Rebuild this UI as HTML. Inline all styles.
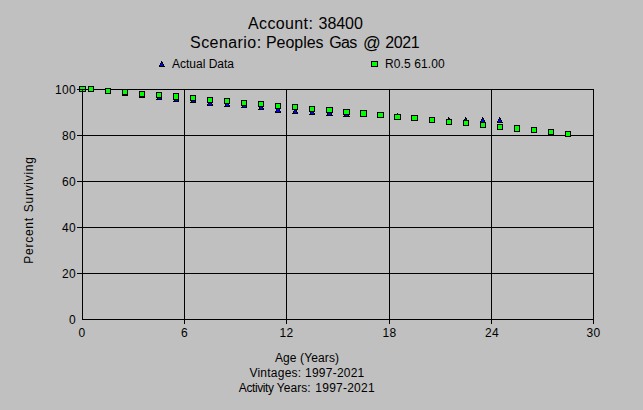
<!DOCTYPE html>
<html><head><meta charset="utf-8"><title>Survivor Curve</title>
<style>
html,body{margin:0;padding:0;background:#c0c0c0;}
body{width:643px;height:410px;position:relative;overflow:hidden;font-family:"Liberation Sans",sans-serif;color:#000;}
i{position:absolute;display:block;}
i.g{background:#0f0;border:1px solid #000;}
.t{position:absolute;white-space:nowrap;line-height:14px;}
.sm{font-size:12px;}
.num{letter-spacing:0.33px;}
.big{font-size:16px;line-height:19px;transform:scaleY(1.04);transform-origin:50% 78%;}
.at{font-size:17.5px;}
.rot{font-size:12px;line-height:14px;letter-spacing:0.72px;transform:translate(-50%,-50%) rotate(-90deg) scale(1,1.08);transform-origin:50% 50%;}
</style></head><body>
<i style="left:82px;top:89px;width:1px;height:231px;background:#000"></i>
<i style="left:184px;top:89px;width:1px;height:231px;background:#000"></i>
<i style="left:286px;top:89px;width:1px;height:231px;background:#000"></i>
<i style="left:389px;top:89px;width:1px;height:231px;background:#000"></i>
<i style="left:491px;top:89px;width:1px;height:231px;background:#000"></i>
<i style="left:593px;top:89px;width:1px;height:231px;background:#000"></i>
<i style="left:82px;top:89px;width:512px;height:1px;background:#000"></i>
<i style="left:82px;top:135px;width:512px;height:1px;background:#000"></i>
<i style="left:82px;top:181px;width:512px;height:1px;background:#000"></i>
<i style="left:82px;top:227px;width:512px;height:1px;background:#000"></i>
<i style="left:82px;top:273px;width:512px;height:1px;background:#000"></i>
<i style="left:82px;top:319px;width:512px;height:1px;background:#000"></i>
<i style="left:77px;top:89px;width:5px;height:1px;background:#000"></i>
<i style="left:77px;top:135px;width:5px;height:1px;background:#000"></i>
<i style="left:77px;top:181px;width:5px;height:1px;background:#000"></i>
<i style="left:77px;top:227px;width:5px;height:1px;background:#000"></i>
<i style="left:77px;top:273px;width:5px;height:1px;background:#000"></i>
<i style="left:184px;top:320px;width:1px;height:4px;background:#000"></i>
<i style="left:286px;top:320px;width:1px;height:4px;background:#000"></i>
<i style="left:389px;top:320px;width:1px;height:4px;background:#000"></i>
<i style="left:491px;top:320px;width:1px;height:4px;background:#000"></i>
<i style="left:593px;top:320px;width:1px;height:4px;background:#000"></i>
<i style="left:82px;top:86px;width:1px;height:1px;background:#000"></i>
<i style="left:81px;top:87px;width:1px;height:1px;background:#000"></i>
<i style="left:82px;top:87px;width:1px;height:1px;background:#00f"></i>
<i style="left:83px;top:87px;width:1px;height:1px;background:#000"></i>
<i style="left:81px;top:88px;width:1px;height:1px;background:#000"></i>
<i style="left:82px;top:88px;width:1px;height:1px;background:#00f"></i>
<i style="left:83px;top:88px;width:1px;height:1px;background:#000"></i>
<i style="left:80px;top:89px;width:1px;height:1px;background:#000"></i>
<i style="left:81px;top:89px;width:3px;height:1px;background:#00f"></i>
<i style="left:84px;top:89px;width:1px;height:1px;background:#000"></i>
<i style="left:80px;top:90px;width:1px;height:1px;background:#000"></i>
<i style="left:81px;top:90px;width:3px;height:1px;background:#00f"></i>
<i style="left:84px;top:90px;width:1px;height:1px;background:#000"></i>
<i style="left:79px;top:91px;width:7px;height:1px;background:#000"></i>
<i style="left:91px;top:86px;width:1px;height:1px;background:#000"></i>
<i style="left:90px;top:87px;width:2px;height:1px;background:#000"></i>
<i style="left:90px;top:88px;width:1px;height:1px;background:#000"></i>
<i style="left:91px;top:88px;width:1px;height:1px;background:#00f"></i>
<i style="left:92px;top:88px;width:1px;height:1px;background:#000"></i>
<i style="left:89px;top:89px;width:1px;height:1px;background:#000"></i>
<i style="left:90px;top:89px;width:2px;height:1px;background:#00f"></i>
<i style="left:92px;top:89px;width:1px;height:1px;background:#000"></i>
<i style="left:89px;top:90px;width:1px;height:1px;background:#000"></i>
<i style="left:90px;top:90px;width:3px;height:1px;background:#00f"></i>
<i style="left:93px;top:90px;width:1px;height:1px;background:#000"></i>
<i style="left:88px;top:91px;width:6px;height:1px;background:#000"></i>
<i style="left:108px;top:88px;width:1px;height:1px;background:#000"></i>
<i style="left:107px;top:89px;width:2px;height:1px;background:#000"></i>
<i style="left:107px;top:90px;width:1px;height:1px;background:#000"></i>
<i style="left:108px;top:90px;width:1px;height:1px;background:#00f"></i>
<i style="left:109px;top:90px;width:1px;height:1px;background:#000"></i>
<i style="left:106px;top:91px;width:1px;height:1px;background:#000"></i>
<i style="left:107px;top:91px;width:2px;height:1px;background:#00f"></i>
<i style="left:109px;top:91px;width:1px;height:1px;background:#000"></i>
<i style="left:106px;top:92px;width:1px;height:1px;background:#000"></i>
<i style="left:107px;top:92px;width:3px;height:1px;background:#00f"></i>
<i style="left:110px;top:92px;width:1px;height:1px;background:#000"></i>
<i style="left:105px;top:93px;width:6px;height:1px;background:#000"></i>
<i style="left:125px;top:90px;width:1px;height:1px;background:#000"></i>
<i style="left:124px;top:91px;width:2px;height:1px;background:#000"></i>
<i style="left:124px;top:92px;width:1px;height:1px;background:#000"></i>
<i style="left:125px;top:92px;width:1px;height:1px;background:#00f"></i>
<i style="left:126px;top:92px;width:1px;height:1px;background:#000"></i>
<i style="left:123px;top:93px;width:1px;height:1px;background:#000"></i>
<i style="left:124px;top:93px;width:2px;height:1px;background:#00f"></i>
<i style="left:126px;top:93px;width:1px;height:1px;background:#000"></i>
<i style="left:123px;top:94px;width:1px;height:1px;background:#000"></i>
<i style="left:124px;top:94px;width:3px;height:1px;background:#00f"></i>
<i style="left:127px;top:94px;width:1px;height:1px;background:#000"></i>
<i style="left:122px;top:95px;width:6px;height:1px;background:#000"></i>
<i style="left:142px;top:92px;width:1px;height:1px;background:#000"></i>
<i style="left:141px;top:93px;width:2px;height:1px;background:#000"></i>
<i style="left:141px;top:94px;width:1px;height:1px;background:#000"></i>
<i style="left:142px;top:94px;width:1px;height:1px;background:#00f"></i>
<i style="left:143px;top:94px;width:1px;height:1px;background:#000"></i>
<i style="left:140px;top:95px;width:1px;height:1px;background:#000"></i>
<i style="left:141px;top:95px;width:2px;height:1px;background:#00f"></i>
<i style="left:143px;top:95px;width:1px;height:1px;background:#000"></i>
<i style="left:140px;top:96px;width:1px;height:1px;background:#000"></i>
<i style="left:141px;top:96px;width:3px;height:1px;background:#00f"></i>
<i style="left:144px;top:96px;width:1px;height:1px;background:#000"></i>
<i style="left:139px;top:97px;width:6px;height:1px;background:#000"></i>
<i style="left:159px;top:94px;width:1px;height:1px;background:#000"></i>
<i style="left:158px;top:95px;width:2px;height:1px;background:#000"></i>
<i style="left:158px;top:96px;width:1px;height:1px;background:#000"></i>
<i style="left:159px;top:96px;width:1px;height:1px;background:#00f"></i>
<i style="left:160px;top:96px;width:1px;height:1px;background:#000"></i>
<i style="left:157px;top:97px;width:1px;height:1px;background:#000"></i>
<i style="left:158px;top:97px;width:2px;height:1px;background:#00f"></i>
<i style="left:160px;top:97px;width:1px;height:1px;background:#000"></i>
<i style="left:157px;top:98px;width:1px;height:1px;background:#000"></i>
<i style="left:158px;top:98px;width:3px;height:1px;background:#00f"></i>
<i style="left:161px;top:98px;width:1px;height:1px;background:#000"></i>
<i style="left:156px;top:99px;width:6px;height:1px;background:#000"></i>
<i style="left:176px;top:96px;width:1px;height:1px;background:#000"></i>
<i style="left:175px;top:97px;width:2px;height:1px;background:#000"></i>
<i style="left:175px;top:98px;width:1px;height:1px;background:#000"></i>
<i style="left:176px;top:98px;width:1px;height:1px;background:#00f"></i>
<i style="left:177px;top:98px;width:1px;height:1px;background:#000"></i>
<i style="left:174px;top:99px;width:1px;height:1px;background:#000"></i>
<i style="left:175px;top:99px;width:2px;height:1px;background:#00f"></i>
<i style="left:177px;top:99px;width:1px;height:1px;background:#000"></i>
<i style="left:174px;top:100px;width:1px;height:1px;background:#000"></i>
<i style="left:175px;top:100px;width:3px;height:1px;background:#00f"></i>
<i style="left:178px;top:100px;width:1px;height:1px;background:#000"></i>
<i style="left:173px;top:101px;width:6px;height:1px;background:#000"></i>
<i style="left:193px;top:97px;width:1px;height:1px;background:#000"></i>
<i style="left:192px;top:98px;width:2px;height:1px;background:#000"></i>
<i style="left:192px;top:99px;width:1px;height:1px;background:#000"></i>
<i style="left:193px;top:99px;width:1px;height:1px;background:#00f"></i>
<i style="left:194px;top:99px;width:1px;height:1px;background:#000"></i>
<i style="left:191px;top:100px;width:1px;height:1px;background:#000"></i>
<i style="left:192px;top:100px;width:2px;height:1px;background:#00f"></i>
<i style="left:194px;top:100px;width:1px;height:1px;background:#000"></i>
<i style="left:191px;top:101px;width:1px;height:1px;background:#000"></i>
<i style="left:192px;top:101px;width:3px;height:1px;background:#00f"></i>
<i style="left:195px;top:101px;width:1px;height:1px;background:#000"></i>
<i style="left:190px;top:102px;width:6px;height:1px;background:#000"></i>
<i style="left:209px;top:100px;width:2px;height:1px;background:#000"></i>
<i style="left:209px;top:101px;width:2px;height:1px;background:#000"></i>
<i style="left:208px;top:102px;width:1px;height:1px;background:#000"></i>
<i style="left:209px;top:102px;width:2px;height:1px;background:#00f"></i>
<i style="left:211px;top:102px;width:1px;height:1px;background:#000"></i>
<i style="left:208px;top:103px;width:1px;height:1px;background:#000"></i>
<i style="left:209px;top:103px;width:2px;height:1px;background:#00f"></i>
<i style="left:211px;top:103px;width:1px;height:1px;background:#000"></i>
<i style="left:207px;top:104px;width:1px;height:1px;background:#000"></i>
<i style="left:208px;top:104px;width:4px;height:1px;background:#00f"></i>
<i style="left:212px;top:104px;width:1px;height:1px;background:#000"></i>
<i style="left:207px;top:105px;width:6px;height:1px;background:#000"></i>
<i style="left:227px;top:101px;width:1px;height:1px;background:#000"></i>
<i style="left:226px;top:102px;width:2px;height:1px;background:#000"></i>
<i style="left:226px;top:103px;width:1px;height:1px;background:#000"></i>
<i style="left:227px;top:103px;width:1px;height:1px;background:#00f"></i>
<i style="left:228px;top:103px;width:1px;height:1px;background:#000"></i>
<i style="left:225px;top:104px;width:1px;height:1px;background:#000"></i>
<i style="left:226px;top:104px;width:2px;height:1px;background:#00f"></i>
<i style="left:228px;top:104px;width:1px;height:1px;background:#000"></i>
<i style="left:225px;top:105px;width:1px;height:1px;background:#000"></i>
<i style="left:226px;top:105px;width:3px;height:1px;background:#00f"></i>
<i style="left:229px;top:105px;width:1px;height:1px;background:#000"></i>
<i style="left:224px;top:106px;width:6px;height:1px;background:#000"></i>
<i style="left:244px;top:102px;width:1px;height:1px;background:#000"></i>
<i style="left:243px;top:103px;width:2px;height:1px;background:#000"></i>
<i style="left:243px;top:104px;width:1px;height:1px;background:#000"></i>
<i style="left:244px;top:104px;width:1px;height:1px;background:#00f"></i>
<i style="left:245px;top:104px;width:1px;height:1px;background:#000"></i>
<i style="left:242px;top:105px;width:1px;height:1px;background:#000"></i>
<i style="left:243px;top:105px;width:2px;height:1px;background:#00f"></i>
<i style="left:245px;top:105px;width:1px;height:1px;background:#000"></i>
<i style="left:242px;top:106px;width:1px;height:1px;background:#000"></i>
<i style="left:243px;top:106px;width:3px;height:1px;background:#00f"></i>
<i style="left:246px;top:106px;width:1px;height:1px;background:#000"></i>
<i style="left:241px;top:107px;width:6px;height:1px;background:#000"></i>
<i style="left:261px;top:104px;width:1px;height:1px;background:#000"></i>
<i style="left:260px;top:105px;width:2px;height:1px;background:#000"></i>
<i style="left:260px;top:106px;width:1px;height:1px;background:#000"></i>
<i style="left:261px;top:106px;width:1px;height:1px;background:#00f"></i>
<i style="left:262px;top:106px;width:1px;height:1px;background:#000"></i>
<i style="left:259px;top:107px;width:1px;height:1px;background:#000"></i>
<i style="left:260px;top:107px;width:2px;height:1px;background:#00f"></i>
<i style="left:262px;top:107px;width:1px;height:1px;background:#000"></i>
<i style="left:259px;top:108px;width:1px;height:1px;background:#000"></i>
<i style="left:260px;top:108px;width:3px;height:1px;background:#00f"></i>
<i style="left:263px;top:108px;width:1px;height:1px;background:#000"></i>
<i style="left:258px;top:109px;width:6px;height:1px;background:#000"></i>
<i style="left:277px;top:107px;width:2px;height:1px;background:#000"></i>
<i style="left:277px;top:108px;width:2px;height:1px;background:#000"></i>
<i style="left:276px;top:109px;width:1px;height:1px;background:#000"></i>
<i style="left:277px;top:109px;width:2px;height:1px;background:#00f"></i>
<i style="left:279px;top:109px;width:1px;height:1px;background:#000"></i>
<i style="left:276px;top:110px;width:1px;height:1px;background:#000"></i>
<i style="left:277px;top:110px;width:2px;height:1px;background:#00f"></i>
<i style="left:279px;top:110px;width:1px;height:1px;background:#000"></i>
<i style="left:275px;top:111px;width:1px;height:1px;background:#000"></i>
<i style="left:276px;top:111px;width:4px;height:1px;background:#00f"></i>
<i style="left:280px;top:111px;width:1px;height:1px;background:#000"></i>
<i style="left:275px;top:112px;width:6px;height:1px;background:#000"></i>
<i style="left:295px;top:108px;width:1px;height:1px;background:#000"></i>
<i style="left:294px;top:109px;width:2px;height:1px;background:#000"></i>
<i style="left:294px;top:110px;width:1px;height:1px;background:#000"></i>
<i style="left:295px;top:110px;width:1px;height:1px;background:#00f"></i>
<i style="left:296px;top:110px;width:1px;height:1px;background:#000"></i>
<i style="left:293px;top:111px;width:1px;height:1px;background:#000"></i>
<i style="left:294px;top:111px;width:2px;height:1px;background:#00f"></i>
<i style="left:296px;top:111px;width:1px;height:1px;background:#000"></i>
<i style="left:293px;top:112px;width:1px;height:1px;background:#000"></i>
<i style="left:294px;top:112px;width:3px;height:1px;background:#00f"></i>
<i style="left:297px;top:112px;width:1px;height:1px;background:#000"></i>
<i style="left:292px;top:113px;width:6px;height:1px;background:#000"></i>
<i style="left:312px;top:109px;width:1px;height:1px;background:#000"></i>
<i style="left:311px;top:110px;width:2px;height:1px;background:#000"></i>
<i style="left:311px;top:111px;width:1px;height:1px;background:#000"></i>
<i style="left:312px;top:111px;width:1px;height:1px;background:#00f"></i>
<i style="left:313px;top:111px;width:1px;height:1px;background:#000"></i>
<i style="left:310px;top:112px;width:1px;height:1px;background:#000"></i>
<i style="left:311px;top:112px;width:2px;height:1px;background:#00f"></i>
<i style="left:313px;top:112px;width:1px;height:1px;background:#000"></i>
<i style="left:310px;top:113px;width:1px;height:1px;background:#000"></i>
<i style="left:311px;top:113px;width:3px;height:1px;background:#00f"></i>
<i style="left:314px;top:113px;width:1px;height:1px;background:#000"></i>
<i style="left:309px;top:114px;width:6px;height:1px;background:#000"></i>
<i style="left:329px;top:110px;width:1px;height:1px;background:#000"></i>
<i style="left:328px;top:111px;width:1px;height:1px;background:#000"></i>
<i style="left:329px;top:111px;width:1px;height:1px;background:#00f"></i>
<i style="left:330px;top:111px;width:1px;height:1px;background:#000"></i>
<i style="left:328px;top:112px;width:1px;height:1px;background:#000"></i>
<i style="left:329px;top:112px;width:1px;height:1px;background:#00f"></i>
<i style="left:330px;top:112px;width:1px;height:1px;background:#000"></i>
<i style="left:327px;top:113px;width:1px;height:1px;background:#000"></i>
<i style="left:328px;top:113px;width:3px;height:1px;background:#00f"></i>
<i style="left:331px;top:113px;width:1px;height:1px;background:#000"></i>
<i style="left:327px;top:114px;width:1px;height:1px;background:#000"></i>
<i style="left:328px;top:114px;width:3px;height:1px;background:#00f"></i>
<i style="left:331px;top:114px;width:1px;height:1px;background:#000"></i>
<i style="left:326px;top:115px;width:7px;height:1px;background:#000"></i>
<i style="left:346px;top:111px;width:1px;height:1px;background:#000"></i>
<i style="left:345px;top:112px;width:1px;height:1px;background:#000"></i>
<i style="left:346px;top:112px;width:1px;height:1px;background:#00f"></i>
<i style="left:347px;top:112px;width:1px;height:1px;background:#000"></i>
<i style="left:345px;top:113px;width:1px;height:1px;background:#000"></i>
<i style="left:346px;top:113px;width:1px;height:1px;background:#00f"></i>
<i style="left:347px;top:113px;width:1px;height:1px;background:#000"></i>
<i style="left:344px;top:114px;width:1px;height:1px;background:#000"></i>
<i style="left:345px;top:114px;width:3px;height:1px;background:#00f"></i>
<i style="left:348px;top:114px;width:1px;height:1px;background:#000"></i>
<i style="left:344px;top:115px;width:1px;height:1px;background:#000"></i>
<i style="left:345px;top:115px;width:3px;height:1px;background:#00f"></i>
<i style="left:348px;top:115px;width:1px;height:1px;background:#000"></i>
<i style="left:343px;top:116px;width:7px;height:1px;background:#000"></i>
<i style="left:363px;top:111px;width:1px;height:1px;background:#000"></i>
<i style="left:362px;top:112px;width:1px;height:1px;background:#000"></i>
<i style="left:363px;top:112px;width:1px;height:1px;background:#00f"></i>
<i style="left:364px;top:112px;width:1px;height:1px;background:#000"></i>
<i style="left:362px;top:113px;width:1px;height:1px;background:#000"></i>
<i style="left:363px;top:113px;width:1px;height:1px;background:#00f"></i>
<i style="left:364px;top:113px;width:1px;height:1px;background:#000"></i>
<i style="left:361px;top:114px;width:1px;height:1px;background:#000"></i>
<i style="left:362px;top:114px;width:3px;height:1px;background:#00f"></i>
<i style="left:365px;top:114px;width:1px;height:1px;background:#000"></i>
<i style="left:361px;top:115px;width:1px;height:1px;background:#000"></i>
<i style="left:362px;top:115px;width:3px;height:1px;background:#00f"></i>
<i style="left:365px;top:115px;width:1px;height:1px;background:#000"></i>
<i style="left:360px;top:116px;width:7px;height:1px;background:#000"></i>
<i style="left:380px;top:112px;width:1px;height:1px;background:#000"></i>
<i style="left:379px;top:113px;width:1px;height:1px;background:#000"></i>
<i style="left:380px;top:113px;width:1px;height:1px;background:#00f"></i>
<i style="left:381px;top:113px;width:1px;height:1px;background:#000"></i>
<i style="left:379px;top:114px;width:1px;height:1px;background:#000"></i>
<i style="left:380px;top:114px;width:1px;height:1px;background:#00f"></i>
<i style="left:381px;top:114px;width:1px;height:1px;background:#000"></i>
<i style="left:378px;top:115px;width:1px;height:1px;background:#000"></i>
<i style="left:379px;top:115px;width:3px;height:1px;background:#00f"></i>
<i style="left:382px;top:115px;width:1px;height:1px;background:#000"></i>
<i style="left:378px;top:116px;width:1px;height:1px;background:#000"></i>
<i style="left:379px;top:116px;width:3px;height:1px;background:#00f"></i>
<i style="left:382px;top:116px;width:1px;height:1px;background:#000"></i>
<i style="left:377px;top:117px;width:7px;height:1px;background:#000"></i>
<i style="left:397px;top:113px;width:1px;height:1px;background:#000"></i>
<i style="left:396px;top:114px;width:1px;height:1px;background:#000"></i>
<i style="left:397px;top:114px;width:1px;height:1px;background:#00f"></i>
<i style="left:398px;top:114px;width:1px;height:1px;background:#000"></i>
<i style="left:396px;top:115px;width:1px;height:1px;background:#000"></i>
<i style="left:397px;top:115px;width:1px;height:1px;background:#00f"></i>
<i style="left:398px;top:115px;width:1px;height:1px;background:#000"></i>
<i style="left:395px;top:116px;width:1px;height:1px;background:#000"></i>
<i style="left:396px;top:116px;width:3px;height:1px;background:#00f"></i>
<i style="left:399px;top:116px;width:1px;height:1px;background:#000"></i>
<i style="left:395px;top:117px;width:1px;height:1px;background:#000"></i>
<i style="left:396px;top:117px;width:3px;height:1px;background:#00f"></i>
<i style="left:399px;top:117px;width:1px;height:1px;background:#000"></i>
<i style="left:394px;top:118px;width:7px;height:1px;background:#000"></i>
<i style="left:414px;top:115px;width:1px;height:1px;background:#000"></i>
<i style="left:413px;top:116px;width:1px;height:1px;background:#000"></i>
<i style="left:414px;top:116px;width:1px;height:1px;background:#00f"></i>
<i style="left:415px;top:116px;width:1px;height:1px;background:#000"></i>
<i style="left:413px;top:117px;width:1px;height:1px;background:#000"></i>
<i style="left:414px;top:117px;width:1px;height:1px;background:#00f"></i>
<i style="left:415px;top:117px;width:1px;height:1px;background:#000"></i>
<i style="left:412px;top:118px;width:1px;height:1px;background:#000"></i>
<i style="left:413px;top:118px;width:3px;height:1px;background:#00f"></i>
<i style="left:416px;top:118px;width:1px;height:1px;background:#000"></i>
<i style="left:412px;top:119px;width:1px;height:1px;background:#000"></i>
<i style="left:413px;top:119px;width:3px;height:1px;background:#00f"></i>
<i style="left:416px;top:119px;width:1px;height:1px;background:#000"></i>
<i style="left:411px;top:120px;width:7px;height:1px;background:#000"></i>
<i style="left:431px;top:117px;width:1px;height:1px;background:#000"></i>
<i style="left:431px;top:118px;width:2px;height:1px;background:#000"></i>
<i style="left:430px;top:119px;width:1px;height:1px;background:#000"></i>
<i style="left:431px;top:119px;width:1px;height:1px;background:#00f"></i>
<i style="left:432px;top:119px;width:1px;height:1px;background:#000"></i>
<i style="left:430px;top:120px;width:1px;height:1px;background:#000"></i>
<i style="left:431px;top:120px;width:2px;height:1px;background:#00f"></i>
<i style="left:433px;top:120px;width:1px;height:1px;background:#000"></i>
<i style="left:429px;top:121px;width:1px;height:1px;background:#000"></i>
<i style="left:430px;top:121px;width:3px;height:1px;background:#00f"></i>
<i style="left:433px;top:121px;width:1px;height:1px;background:#000"></i>
<i style="left:429px;top:122px;width:6px;height:1px;background:#000"></i>
<i style="left:448px;top:117px;width:1px;height:1px;background:#000"></i>
<i style="left:448px;top:118px;width:2px;height:1px;background:#000"></i>
<i style="left:447px;top:119px;width:1px;height:1px;background:#000"></i>
<i style="left:448px;top:119px;width:1px;height:1px;background:#00f"></i>
<i style="left:449px;top:119px;width:1px;height:1px;background:#000"></i>
<i style="left:447px;top:120px;width:1px;height:1px;background:#000"></i>
<i style="left:448px;top:120px;width:2px;height:1px;background:#00f"></i>
<i style="left:450px;top:120px;width:1px;height:1px;background:#000"></i>
<i style="left:446px;top:121px;width:1px;height:1px;background:#000"></i>
<i style="left:447px;top:121px;width:3px;height:1px;background:#00f"></i>
<i style="left:450px;top:121px;width:1px;height:1px;background:#000"></i>
<i style="left:446px;top:122px;width:6px;height:1px;background:#000"></i>
<i style="left:465px;top:117px;width:1px;height:1px;background:#000"></i>
<i style="left:465px;top:118px;width:2px;height:1px;background:#000"></i>
<i style="left:464px;top:119px;width:1px;height:1px;background:#000"></i>
<i style="left:465px;top:119px;width:1px;height:1px;background:#00f"></i>
<i style="left:466px;top:119px;width:1px;height:1px;background:#000"></i>
<i style="left:464px;top:120px;width:1px;height:1px;background:#000"></i>
<i style="left:465px;top:120px;width:2px;height:1px;background:#00f"></i>
<i style="left:467px;top:120px;width:1px;height:1px;background:#000"></i>
<i style="left:463px;top:121px;width:1px;height:1px;background:#000"></i>
<i style="left:464px;top:121px;width:3px;height:1px;background:#00f"></i>
<i style="left:467px;top:121px;width:1px;height:1px;background:#000"></i>
<i style="left:463px;top:122px;width:6px;height:1px;background:#000"></i>
<i style="left:482px;top:117px;width:1px;height:1px;background:#000"></i>
<i style="left:482px;top:118px;width:2px;height:1px;background:#000"></i>
<i style="left:481px;top:119px;width:1px;height:1px;background:#000"></i>
<i style="left:482px;top:119px;width:1px;height:1px;background:#00f"></i>
<i style="left:483px;top:119px;width:1px;height:1px;background:#000"></i>
<i style="left:481px;top:120px;width:1px;height:1px;background:#000"></i>
<i style="left:482px;top:120px;width:2px;height:1px;background:#00f"></i>
<i style="left:484px;top:120px;width:1px;height:1px;background:#000"></i>
<i style="left:480px;top:121px;width:1px;height:1px;background:#000"></i>
<i style="left:481px;top:121px;width:3px;height:1px;background:#00f"></i>
<i style="left:484px;top:121px;width:1px;height:1px;background:#000"></i>
<i style="left:480px;top:122px;width:6px;height:1px;background:#000"></i>
<i style="left:499px;top:117px;width:1px;height:1px;background:#000"></i>
<i style="left:499px;top:118px;width:2px;height:1px;background:#000"></i>
<i style="left:498px;top:119px;width:1px;height:1px;background:#000"></i>
<i style="left:499px;top:119px;width:1px;height:1px;background:#00f"></i>
<i style="left:500px;top:119px;width:1px;height:1px;background:#000"></i>
<i style="left:498px;top:120px;width:1px;height:1px;background:#000"></i>
<i style="left:499px;top:120px;width:2px;height:1px;background:#00f"></i>
<i style="left:501px;top:120px;width:1px;height:1px;background:#000"></i>
<i style="left:497px;top:121px;width:1px;height:1px;background:#000"></i>
<i style="left:498px;top:121px;width:3px;height:1px;background:#00f"></i>
<i style="left:501px;top:121px;width:1px;height:1px;background:#000"></i>
<i style="left:497px;top:122px;width:6px;height:1px;background:#000"></i>
<i class="g" style="left:79px;top:86px;width:5px;height:4px"></i>
<i class="g" style="left:88px;top:86px;width:4px;height:4px"></i>
<i class="g" style="left:105px;top:88px;width:4px;height:4px"></i>
<i class="g" style="left:122px;top:89px;width:4px;height:4px"></i>
<i class="g" style="left:139px;top:91px;width:4px;height:4px"></i>
<i class="g" style="left:156px;top:92px;width:4px;height:4px"></i>
<i class="g" style="left:173px;top:93px;width:4px;height:5px"></i>
<i class="g" style="left:190px;top:95px;width:4px;height:4px"></i>
<i class="g" style="left:207px;top:97px;width:4px;height:4px"></i>
<i class="g" style="left:224px;top:98px;width:4px;height:4px"></i>
<i class="g" style="left:241px;top:100px;width:4px;height:4px"></i>
<i class="g" style="left:258px;top:101px;width:4px;height:4px"></i>
<i class="g" style="left:275px;top:103px;width:4px;height:4px"></i>
<i class="g" style="left:292px;top:104px;width:4px;height:4px"></i>
<i class="g" style="left:309px;top:106px;width:4px;height:4px"></i>
<i class="g" style="left:326px;top:107px;width:5px;height:4px"></i>
<i class="g" style="left:343px;top:109px;width:5px;height:4px"></i>
<i class="g" style="left:360px;top:110px;width:5px;height:5px"></i>
<i class="g" style="left:377px;top:112px;width:5px;height:4px"></i>
<i class="g" style="left:394px;top:114px;width:5px;height:4px"></i>
<i class="g" style="left:411px;top:115px;width:5px;height:4px"></i>
<i class="g" style="left:429px;top:117px;width:4px;height:4px"></i>
<i class="g" style="left:446px;top:119px;width:4px;height:4px"></i>
<i class="g" style="left:463px;top:120px;width:4px;height:4px"></i>
<i class="g" style="left:480px;top:122px;width:4px;height:4px"></i>
<i class="g" style="left:497px;top:124px;width:4px;height:4px"></i>
<i class="g" style="left:514px;top:125px;width:4px;height:5px"></i>
<i class="g" style="left:531px;top:127px;width:4px;height:4px"></i>
<i class="g" style="left:548px;top:129px;width:4px;height:4px"></i>
<i class="g" style="left:565px;top:131px;width:4px;height:4px"></i>
<i style="left:80px;top:89px;width:5px;height:1px;background:#000"></i>
<i style="left:82px;top:89px;width:1px;height:3px;background:#000"></i>
<i style="left:161px;top:61px;width:1px;height:1px;background:#000"></i>
<i style="left:161px;top:62px;width:2px;height:1px;background:#000"></i>
<i style="left:160px;top:63px;width:1px;height:1px;background:#000"></i>
<i style="left:161px;top:63px;width:1px;height:1px;background:#00f"></i>
<i style="left:162px;top:63px;width:1px;height:1px;background:#000"></i>
<i style="left:160px;top:64px;width:1px;height:1px;background:#000"></i>
<i style="left:161px;top:64px;width:2px;height:1px;background:#00f"></i>
<i style="left:163px;top:64px;width:1px;height:1px;background:#000"></i>
<i style="left:159px;top:65px;width:1px;height:1px;background:#000"></i>
<i style="left:160px;top:65px;width:3px;height:1px;background:#00f"></i>
<i style="left:163px;top:65px;width:1px;height:1px;background:#000"></i>
<i style="left:159px;top:66px;width:6px;height:1px;background:#000"></i>
<i class="g" style="left:371px;top:61px;width:5px;height:4px"></i>
<span id="t1a" class="t big" style="left:248.09px;top:14px;letter-spacing:0.355px">Account:</span>
<span id="t1b" class="t big" style="left:318.52px;top:14px;letter-spacing:-0.036px">38400</span>
<span id="t2a" class="t big" style="left:190.04px;top:33px;letter-spacing:0.434px">Scenario:</span>
<span id="t2b" class="t big" style="left:265.93px;top:33px;letter-spacing:-0.021px">Peoples</span>
<span id="t2c" class="t big" style="left:329.29px;top:33px;letter-spacing:-0.679px">Gas</span>
<span id="t2d" class="t big at" style="left:363.01px;top:34px;letter-spacing:0.000px">@</span>
<span id="t2e" class="t big" style="left:385.32px;top:33px;letter-spacing:-0.449px">2021</span>
<span class="t sm" style="left:172px;top:57px">Actual Data</span>
<span class="t sm" style="left:385px;top:57px;letter-spacing:0.1px">R0.5 61.00</span>
<span class="t sm num" style="left:16px;width:60px;text-align:right;top:83px">100</span>
<span class="t sm num" style="left:16px;width:60px;text-align:right;top:129px">80</span>
<span class="t sm num" style="left:16px;width:60px;text-align:right;top:175px">60</span>
<span class="t sm num" style="left:16px;width:60px;text-align:right;top:221px">40</span>
<span class="t sm num" style="left:16px;width:60px;text-align:right;top:267px">20</span>
<span class="t sm num" style="left:16px;width:60px;text-align:right;top:313px">0</span>
<span class="t sm num" style="left:52.0px;width:60px;text-align:center;top:326px">0</span>
<span class="t sm num" style="left:154.5px;width:60px;text-align:center;top:326px">6</span>
<span class="t sm num" style="left:256.5px;width:60px;text-align:center;top:326px">12</span>
<span class="t sm num" style="left:359.5px;width:60px;text-align:center;top:326px">18</span>
<span class="t sm num" style="left:461.9px;width:60px;text-align:center;top:326px">24</span>
<span class="t sm num" style="left:563.5px;width:60px;text-align:center;top:326px">30</span>
<span class="t sm" style="left:207px;width:200px;text-align:center;top:351px;letter-spacing:0.12px">Age (Years)</span>
<span class="t sm" style="left:207px;width:200px;text-align:center;top:366px;letter-spacing:0.24px">Vintages: 1997-2021</span>
<span id="aa" class="t sm" style="left:238.79px;top:381px;letter-spacing:-0.396px">Activity</span>
<span id="ab" class="t sm" style="left:276.67px;top:381px;letter-spacing:0.090px">Years:</span>
<span id="ac" class="t sm" style="left:315.33px;top:381px;letter-spacing:0.238px">1997-2021</span>
<span class="t rot" style="left:29px;top:210.25px;word-spacing:1px">Percent Surviving</span>
</body></html>
